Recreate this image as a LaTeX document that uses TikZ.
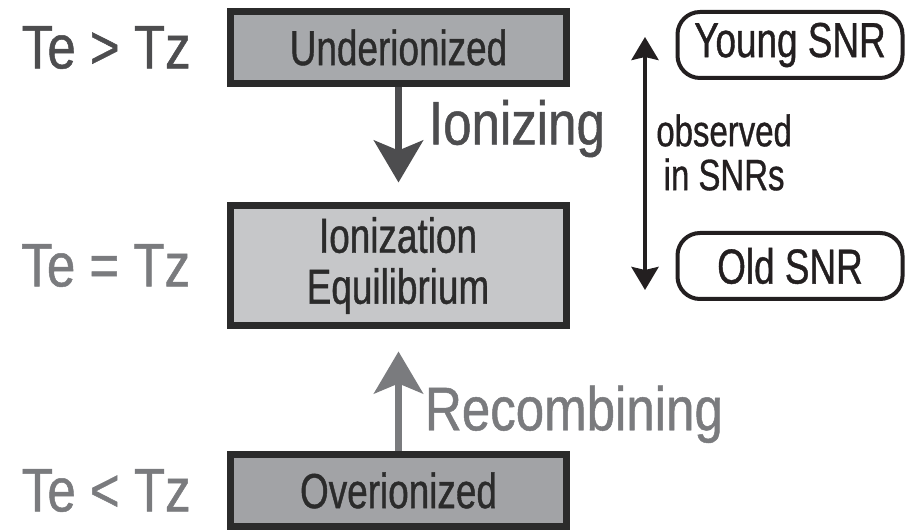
\documentclass[tikz,border=0pt]{standalone}
\usepackage{fontspec}
\setmainfont{Liberation Sans}[FakeStretch=0.83, FakeBold=0.8]
\newfontfamily\narrowfont{Liberation Sans}[FakeStretch=0.75, FakeBold=0.8]
\usetikzlibrary{positioning,arrows.meta}
\definecolor{darkgrey}{HTML}{4D4D4F}
\definecolor{midgrey}{HTML}{7A7B7E}
\definecolor{boxline}{HTML}{2B2B2B}
\definecolor{underfill}{HTML}{A7A9AC}
\definecolor{eqfill}{HTML}{C6C7C9}
\definecolor{overfill}{HTML}{A2A3A6}
\definecolor{ink}{HTML}{231F20}
\begin{document}
\begin{tikzpicture}[
  state/.style={rectangle, draw=boxline, line width=0.14cm, minimum width=6.72cm, minimum height=1.44cm, text=boxline, font=\narrowfont\fontsize{28}{29}\selectfont, align=center, inner sep=0pt},
  temp/.style={font=\fontsize{35}{40}\selectfont, inner sep=0pt},
  proc/.style={font=\fontsize{35}{40}\selectfont, inner sep=0pt, anchor=base west},
  flow/.style={line width=0.14cm, -{Stealth[length=0.84cm, width=0.98cm, inset=0.2cm]}},
  snr/.style={rectangle, rounded corners=0.45cm, draw=ink, line width=0.08cm, minimum width=4.5cm, minimum height=1.32cm, text=ink, font=\narrowfont\fontsize{28}{30}\selectfont},
  span/.style={ink, line width=0.08cm, {Stealth[length=0.46cm, width=0.54cm, inset=0.06cm]}-{Stealth[length=0.46cm, width=0.54cm, inset=0.06cm]}}
]
\useasboundingbox (0,0) rectangle (18.12,10.6);

% ionization states
\node [state, fill=underfill] (under) at (7.97,9.65) {Underionized};
\node [state, fill=eqfill, minimum height=2.4cm] (equil) at (7.96,5.29) {Ionization\\Equilibrium};
\node [state, fill=overfill] (over) at (7.97,0.79) {Overionized};

% temperatures
\node [temp, text=darkgrey, left=0.72cm of under] (tunder) {Te > Tz};
\node [temp, text=midgrey, left=0.72cm of equil] (tequil) {Te = Tz};
\node [temp, text=midgrey, left=0.72cm of over] (tover) {Te < Tz};

% processes
\draw [flow, darkgrey, shorten >=0.39cm] (under.south) -- (under.south |- equil.north)
  node [proc, pos=0.5, xshift=0.54cm, text=darkgrey] (ionizing) {Ionizing};
\draw [flow, midgrey, shorten >=0.45cm] (over.north) -- (over.north |- equil.south)
  node [proc, pos=0.17, xshift=0.46cm, text=midgrey] (recomb) {Recombining};

% remnants
\node [snr] (young) at (15.8,9.7) {Young SNR};
\node [snr, below=3.02cm of young] (old) {Old SNR};
\coordinate (newest) at (12.9,9.86);
\coordinate (oldest) at (12.9,4.8);
\draw [span] (newest) -- (oldest);
\node [anchor=west, inner sep=0pt, align=center, text=ink, font=\narrowfont\fontsize{25}{25}\selectfont] (seen) at (13.12,7.55) {observed\\in SNRs};
\end{tikzpicture}
\end{document}
